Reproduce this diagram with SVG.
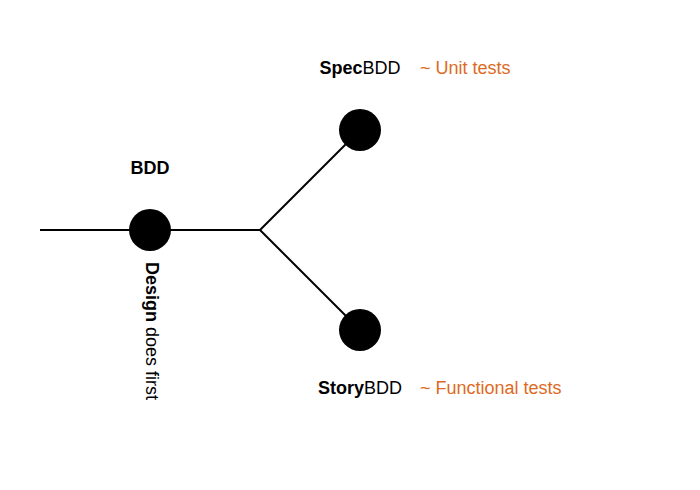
<svg xmlns="http://www.w3.org/2000/svg" width="700" height="490" viewBox="0 0 700 490">
  <style>
    text { font-family: "Liberation Sans", Arial, sans-serif; font-size: 18px; fill: #000; }
    .b { font-weight: bold; }
    .note { fill: #dd6a1f; }
    .edge { stroke: #000; stroke-width: 2; fill: none; }
    .dot { fill: #000; }
  </style>
  <rect width="700" height="490" fill="#fff"/>
  <g id="connectors">
    <line class="edge" x1="40" y1="230" x2="260" y2="230"/>
    <line class="edge" x1="260" y1="230" x2="360" y2="130"/>
    <line class="edge" x1="260" y1="230" x2="360" y2="330"/>
  </g>
  <g id="bdd">
    <circle class="dot" cx="150" cy="230" r="21"/>
    <text x="150" y="174" text-anchor="middle" class="b">BDD</text>
    <text transform="translate(145.5,262) rotate(90)"><tspan class="b">Design</tspan> does first</text>
  </g>
  <g id="specbdd">
    <circle class="dot" cx="360" cy="130" r="21"/>
    <text x="360" y="74" text-anchor="middle"><tspan class="b">Spec</tspan>BDD</text>
    <text x="420" y="74" class="note">~ Unit tests</text>
  </g>
  <g id="storybdd">
    <circle class="dot" cx="360" cy="330" r="21"/>
    <text x="360" y="394" text-anchor="middle"><tspan class="b">Story</tspan>BDD</text>
    <text x="420" y="394" class="note">~ Functional tests</text>
  </g>
</svg>
